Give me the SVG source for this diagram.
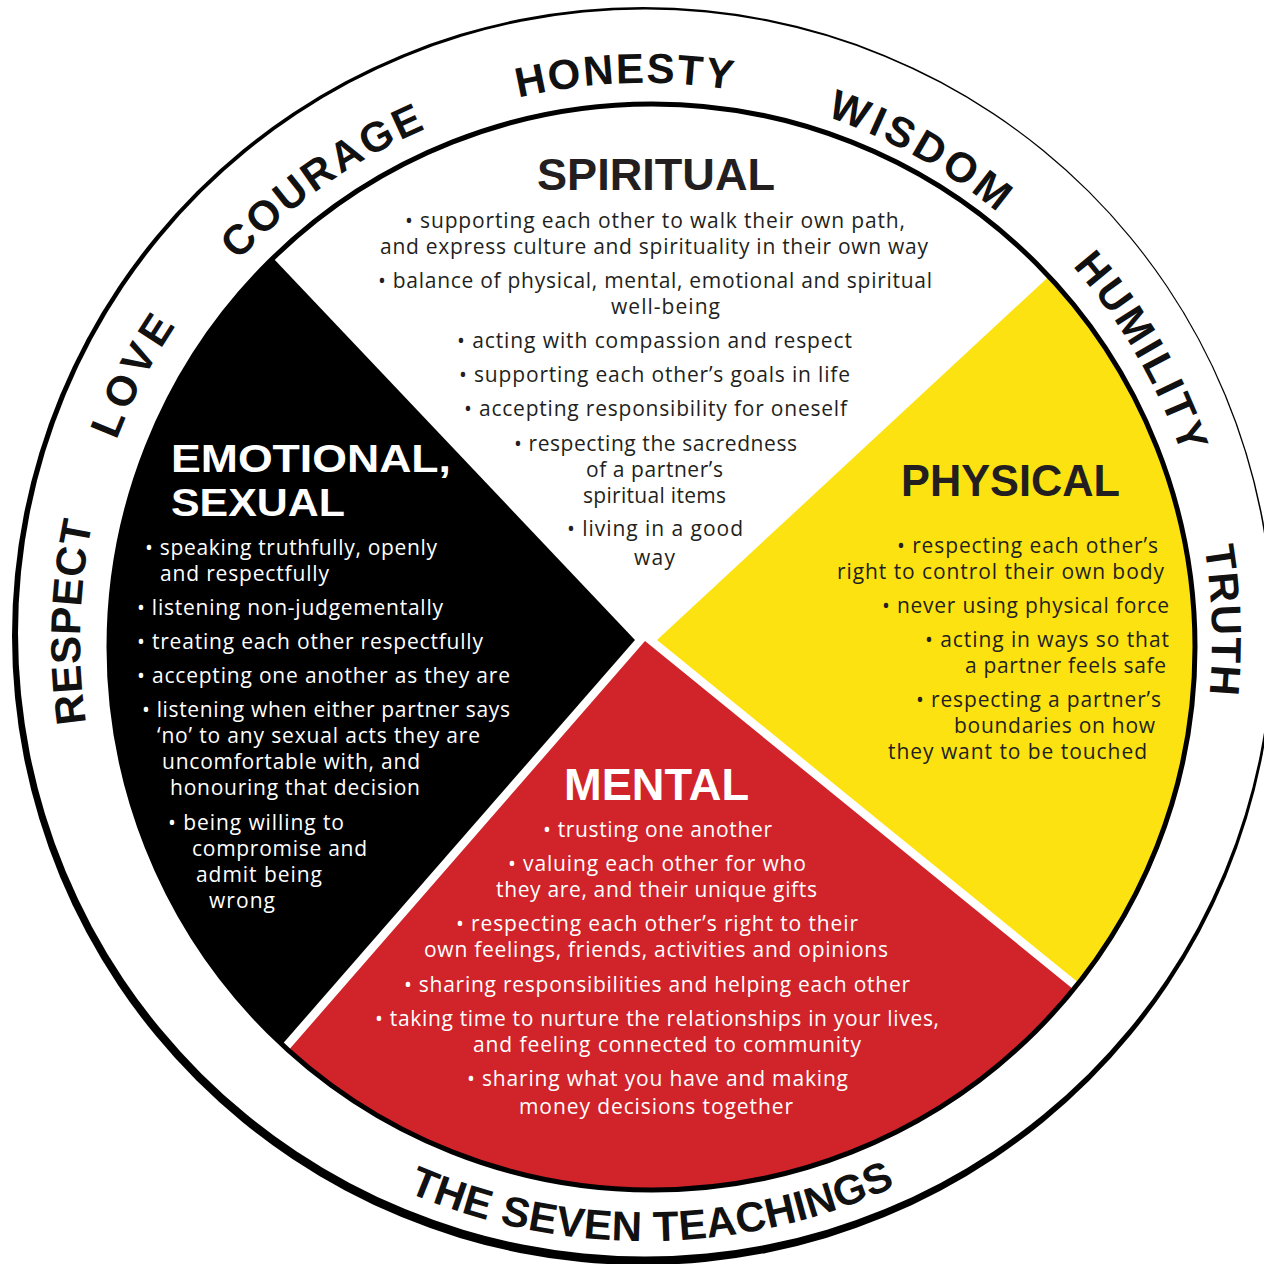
<svg xmlns="http://www.w3.org/2000/svg" width="1264" height="1264" viewBox="0 0 1264 1264">
<style>
.ring{font-family:"Liberation Sans",Arial,sans-serif;font-weight:bold;font-size:42px;fill:#111}
.head{font-family:"Liberation Sans",Arial,sans-serif;font-weight:bold;font-size:44px}
.head2{font-family:"Liberation Sans",Arial,sans-serif;font-weight:bold;font-size:38px}
.body{font-family:"Open Sans",sans-serif;font-size:21px}
.dk{fill:#231f20}
.lt{fill:#ffffff}
</style>
<defs>
<clipPath id="disk"><circle cx="652" cy="647" r="542"/></clipPath>
<path id="p554" d="M124.4,450.5 A554,554 0 0 1 1165.6,450.5"/>
<path id="p556" d="M122.5,449.8 A556,556 0 0 1 1167.5,449.8"/>
<path id="p557" d="M121.6,449.5 A557,557 0 0 1 1168.4,449.5"/>
<path id="p565" d="M114.1,446.8 A565,565 0 0 1 1175.9,446.8"/>
<path id="p567" d="M112.2,446.1 A567,567 0 0 1 1177.8,446.1"/>
<path id="p568" d="M111.3,445.7 A568,568 0 0 1 1178.7,445.7"/>
<path id="p601" d="M80.2,845.5 A601,601 0 0 0 1209.8,845.5"/>
</defs>
<rect x="0" y="0" width="1264" height="1264" fill="#ffffff"/>
<g id="outer-ring">
<ellipse cx="643" cy="636" rx="631" ry="629" fill="#000"/>
<ellipse cx="645" cy="633" rx="627" ry="623.5" fill="#fff"/>
</g>
<g id="wheel">
<g clip-path="url(#disk)">
<rect x="0" y="0" width="1264" height="1264" fill="#fff"/>
<polygon id="quad-black" points="635,640 -89,-124 -300,-124 -300,1440 -63,1440" fill="#000"/>
<polygon id="quad-yellow" points="657,640 1431,-78 1600,-78 1600,1336 1513,1336" fill="#fde212"/>
<polygon id="quad-red" points="645,641 1501,1337 1600,1337 1600,1600 -57,1600 -57,1447" fill="#d1232a"/>
</g>
<circle cx="652" cy="647" r="543" fill="none" stroke="#000" stroke-width="5"/>
</g>
<g id="teachings">
<text class="ring" transform="rotate(-2 645 640)"><textPath href="#p557" startOffset="50%" text-anchor="middle" letter-spacing="2">HONESTY</textPath></text>
<text class="ring" transform="rotate(29.5 645 640)"><textPath href="#p554" startOffset="50%" text-anchor="middle" letter-spacing="4">WISDOM</textPath></text>
<text class="ring" transform="rotate(60 645 640)"><textPath href="#p568" startOffset="50%" text-anchor="middle" letter-spacing="3">HUMILITY</textPath></text>
<text class="ring" transform="rotate(88.1 645 640)"><textPath href="#p567" startOffset="50%" text-anchor="middle" letter-spacing="1.5">TRUTH</textPath></text>
<text class="ring" transform="rotate(-88.2 645 640)"><textPath href="#p565" startOffset="50%" text-anchor="middle" letter-spacing="0.5">RESPECT</textPath></text>
<text class="ring" transform="rotate(-62.5 645 640)"><textPath href="#p565" startOffset="50%" text-anchor="middle" letter-spacing="5">LOVE</textPath></text>
<text class="ring" transform="rotate(-35 645 640)"><textPath href="#p556" startOffset="50%" text-anchor="middle" letter-spacing="2.7">COURAGE</textPath></text>
<text class="ring" transform="rotate(-0.7 645 640)"><textPath href="#p601" startOffset="50%" text-anchor="middle" letter-spacing="0.3">THE SEVEN TEACHINGS</textPath></text>
</g>
<g id="spiritual">
<text class="head dk" x="537" y="190" textLength="238" lengthAdjust="spacingAndGlyphs">SPIRITUAL</text>
<g class="body dk">
<text><tspan x="405" y="228" textLength="500">• supporting each other to walk their own path,</tspan><tspan x="380" y="254" textLength="548">and express culture and spirituality in their own way</tspan></text>
<text><tspan x="378" y="288" textLength="554">• balance of physical, mental, emotional and spiritual</tspan><tspan x="611" y="314" textLength="109">well-being</tspan></text>
<text x="457" y="348" textLength="395">• acting with compassion and respect</text>
<text x="459" y="382" textLength="391">• supporting each other’s goals in life</text>
<text x="464" y="416" textLength="383">• accepting responsibility for oneself</text>
<text><tspan x="514" y="451" textLength="283">• respecting the sacredness</tspan><tspan x="586" y="477" textLength="137">of a partner’s</tspan><tspan x="583" y="503" textLength="143">spiritual items</tspan></text>
<text x="567" y="536" textLength="176">• living in a good</text>
<text x="634" y="565" textLength="41">way</text>
</g>
</g>
<g id="emotional-sexual">
<text class="head2 lt" x="171" y="472" textLength="280" lengthAdjust="spacingAndGlyphs">EMOTIONAL,</text>
<text class="head2 lt" x="171" y="516" textLength="174" lengthAdjust="spacingAndGlyphs">SEXUAL</text>
<g class="body lt">
<text><tspan x="145" y="555" textLength="292">• speaking truthfully, openly</tspan><tspan x="160" y="581" textLength="169">and respectfully</tspan></text>
<text x="137" y="615" textLength="306">• listening non-judgementally</text>
<text x="137" y="649" textLength="346">• treating each other respectfully</text>
<text x="137" y="683" textLength="373">• accepting one another as they are</text>
<text><tspan x="142" y="717" textLength="368">• listening when either partner says</tspan><tspan x="157" y="743" textLength="323">‘no’ to any sexual acts they are</tspan><tspan x="162" y="769" textLength="258">uncomfortable with, and</tspan><tspan x="170" y="795" textLength="250">honouring that decision</tspan></text>
<text><tspan x="168" y="830" textLength="176">• being willing to</tspan><tspan x="192" y="856" textLength="175">compromise and</tspan><tspan x="196" y="882" textLength="126">admit being</tspan><tspan x="209" y="908" textLength="66">wrong</tspan></text>
</g>
</g>
<g id="physical">
<text class="head dk" x="901" y="496" textLength="219" lengthAdjust="spacingAndGlyphs">PHYSICAL</text>
<g class="body dk">
<text><tspan x="897" y="553" textLength="261">• respecting each other’s</tspan><tspan x="837" y="579" textLength="327">right to control their own body</tspan></text>
<text x="882" y="613" textLength="287">• never using physical force</text>
<text><tspan x="925" y="647" textLength="244">• acting in ways so that</tspan><tspan x="965" y="673" textLength="201">a partner feels safe</tspan></text>
<text><tspan x="916" y="707" textLength="245">• respecting a partner’s</tspan><tspan x="954" y="733" textLength="201">boundaries on how</tspan><tspan x="888" y="759" textLength="259">they want to be touched</tspan></text>
</g>
</g>
<g id="mental">
<text class="head lt" x="564" y="800" textLength="185" lengthAdjust="spacingAndGlyphs">MENTAL</text>
<g class="body lt">
<text x="543" y="837" textLength="229">• trusting one another</text>
<text><tspan x="508" y="871" textLength="298">• valuing each other for who</tspan><tspan x="496" y="897" textLength="321">they are, and their unique gifts</tspan></text>
<text><tspan x="456" y="931" textLength="402">• respecting each other’s right to their</tspan><tspan x="424" y="957" textLength="464">own feelings, friends, activities and opinions</tspan></text>
<text x="404" y="992" textLength="506">• sharing responsibilities and helping each other</text>
<text><tspan x="375" y="1026" textLength="564">• taking time to nurture the relationships in your lives,</tspan><tspan x="473" y="1052" textLength="388">and feeling connected to community</tspan></text>
<text x="467" y="1086" textLength="381">• sharing what you have and making</text>
<text x="519" y="1114" textLength="274">money decisions together</text>
</g>
</g>
</svg>
